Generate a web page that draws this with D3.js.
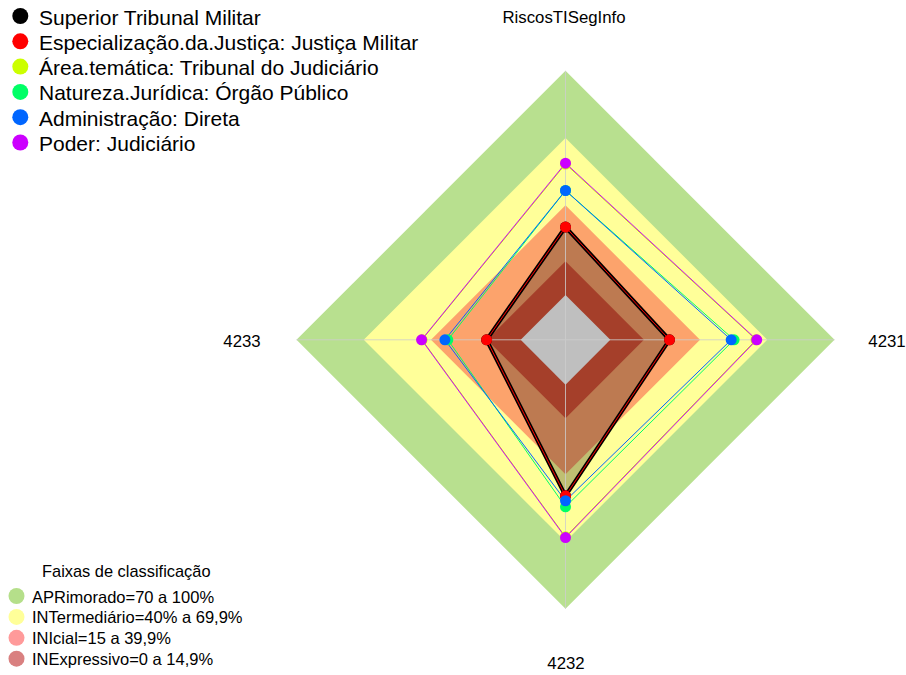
<!DOCTYPE html>
<html>
<head>
    <meta charset="utf-8">
    <title>Radar RiscosTISegInfo</title>
    <script src="https://d3js.org/d3.v7.min.js"></script>
    <style>
        body { margin: 0; background: #fff; }
        text { font-family: "Liberation Sans", Arial, sans-serif; fill: #000; }
    </style>
</head>
<body>
    <div id="chart"></div>

    <script>
        // Axes (clockwise from top)
        var axes = ["RiscosTISegInfo", "4231", "4232", "4233"];

        // Series names and values (fraction 0..1)
        var seriesNames = [
            "Superior Tribunal Militar",
            "Especialização.da.Justiça: Justiça Militar",
            "Área.temática: Tribunal do Judiciário",
            "Natureza.Jurídica: Órgão Público",
            "Administração: Direta",
            "Poder: Judiciário"
        ];
        var stm      = [0.303, 0.264, 0.496, 0.152];
        var especial = [0.303, 0.264, 0.496, 0.152];
        var area     = [0.584, 0.650, 0.679, 0.440];
        var natureza = [0.466, 0.552, 0.545, 0.325];
        var admin    = [0.466, 0.539, 0.518, 0.338];
        var poder    = [0.588, 0.653, 0.682, 0.442];
        var seriesValues = [stm, especial, area, natureza, admin, poder];
        var seriesColors = ["#000000", "#FF0000", "#CCFF00", "#00FF66", "#0066FF", "#CC00FF"];

        // Classification bands
        var bandNames = ["APRimorado=70 a 100%", "INTermediário=40% a 69,9%", "INIcial=15 a 39,9%", "INExpressivo=0 a 14,9%"];
        var bandTops = [1.0, 0.7, 0.4, 0.15];
        var bandFill = ["#b8e08f", "#ffff99", "#fca36c", "#dc5539"];
        var bandLegend = ["#b5df8a", "#ffff99", "#ff9a9a", "#d98080"];

        var W = 906, H = 675;
        var cx = 565.5, cy = 339.8, R = 269;

        var svg = d3.select("#chart").append("svg")
            .attr("width", W).attr("height", H);

        // radial scale with hole in the middle (1/6 of radius)
        var r = d3.scaleLinear().domain([0, 1]).range([R / 6, R]);
        var angle = d3.scalePoint().domain(d3.range(axes.length + 1)).range([0, 2 * Math.PI]);

        var radial = d3.lineRadial()
            .angle(function (d, i) { return angle(i); })
            .radius(function (d) { return r(d); })
            .curve(d3.curveLinearClosed);

        var g = svg.append("g").attr("transform", "translate(" + cx + "," + cy + ")");

        // bands
        g.selectAll(".band")
            .data(bandTops)
            .enter().append("path")
            .attr("d", function (d) { return radial(axes.map(function () { return d; })); })
            .attr("fill", function (d, i) { return bandFill[i]; });

        // hole
        g.append("path")
            .attr("d", radial(axes.map(function () { return 0; })))
            .attr("fill", "#fff");

        // translucent fill of the first series
        g.append("path")
            .attr("d", radial(stm))
            .attr("fill", "rgba(0,0,0,0.25)");

        // axis lines
        g.selectAll(".axis")
            .data(axes)
            .enter().append("line")
            .attr("x1", 0).attr("y1", 0)
            .attr("x2", function (d, i) { return R * Math.sin(angle(i)); })
            .attr("y2", function (d, i) { return -R * Math.cos(angle(i)); })
            .attr("stroke", "rgba(205,205,205,0.8)")
            .attr("stroke-width", 1);

        // series lines and points
        seriesValues.forEach(function (vals, s) {
            g.append("path")
                .attr("d", radial(vals))
                .attr("fill", "none")
                .attr("stroke", seriesColors[s])
                .attr("stroke-width", s === 0 ? 4 : 1);
        });
        seriesValues.forEach(function (vals, s) {
            g.selectAll(".pt" + s)
                .data(vals)
                .enter().append("circle")
                .attr("cx", function (d, i) { return r(d) * Math.sin(angle(i)); })
                .attr("cy", function (d, i) { return -r(d) * Math.cos(angle(i)); })
                .attr("r", 5.5)
                .attr("fill", seriesColors[s]);
        });

        // axis labels
        var labelPos = [[564, 17], [887, 341], [566, 663], [242, 341]];
        svg.selectAll(".alabel")
            .data(axes)
            .enter().append("text")
            .attr("x", function (d, i) { return labelPos[i][0]; })
            .attr("y", function (d, i) { return labelPos[i][1]; })
            .attr("text-anchor", "middle")
            .attr("dominant-baseline", "central")
            .style("font-size", "16.8px")
            .text(function (d) { return d; });

        // series legend
        var leg = svg.append("g");
        seriesNames.forEach(function (name, i) {
            var y = 16 + i * 25.3;
            leg.append("circle").attr("cx", 20.3).attr("cy", y).attr("r", 8).attr("fill", seriesColors[i]);
            leg.append("text").attr("x", 39).attr("y", y + 1)
                .attr("dominant-baseline", "central")
                .style("font-size", "21px")
                .text(name);
        });

        // band legend
        svg.append("text").attr("x", 42).attr("y", 571)
            .attr("dominant-baseline", "central")
            .style("font-size", "16.4px")
            .text("Faixas de classificação");
        bandNames.forEach(function (name, i) {
            var y = 596 + i * 20.9;
            svg.append("circle").attr("cx", 16.5).attr("cy", y).attr("r", 8).attr("fill", bandLegend[i]);
            svg.append("text").attr("x", 32).attr("y", y + 0.5)
                .attr("dominant-baseline", "central")
                .style("font-size", "16.5px")
                .text(name);
        });
    </script>
</body>
</html>
